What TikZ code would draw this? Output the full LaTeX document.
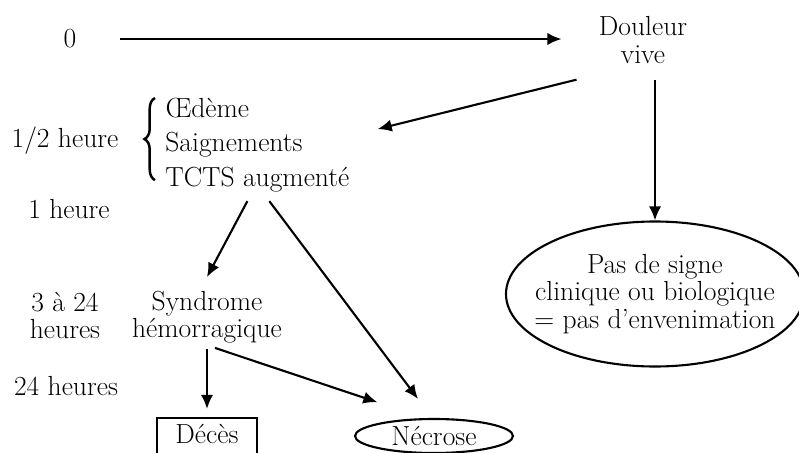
\documentclass[tikz,border=0pt]{standalone}
\usepackage{fontspec}
\usepackage{tikz}
\usetikzlibrary{shapes.geometric, arrows.meta, decorations.pathreplacing, calc}
\tikzstyle{fleche}=[line width=1.2pt, -{Latex[length=8pt,width=7pt]}]
\tikzset{
  etiquette/.style={
    inner sep=0pt,
    anchor=base},
  bloc/.style={
    inner sep=0pt,
    align=center},
  bulle/.style={
    ellipse,
    draw,
    line width=1.2pt,
    inner sep=0pt},
  cadre/.style={
    rectangle,
    draw,
    line width=1.2pt,
    minimum width=2cm,
    inner xsep=0pt,
    inner ysep=0.14cm,
    text height=0.36cm,
    text depth=0.5cm}
}

\begin{document}
\begin{tikzpicture}[font=\fontsize{15.7}{15.5}\selectfont]
  \useasboundingbox (0,0) rectangle (15.98,-9.06);

  % Time scale
  \node (t0) [inner sep=0pt] at (1.4,-0.78) {0};
  \node (tdemi) [etiquette] at (1.3,-2.94) {1/2 heure};
  \node (tun) [etiquette] at (1.38,-4.36) {1 heure};
  \node (ttrois) [bloc] at (1.3,-6.31) {3 à 24\\heures};
  \node (tvingt) [etiquette] at (1.32,-7.9) {24 heures};

  % Signs
  \node (douleur) [bloc] at (12.86,-0.8) {Douleur\\vive};
  \node (signes) [inner sep=0pt, align=left, anchor=north west] at (3.3,-1.96) {Œdème\\[4pt]Saignements\\[4pt]TCTS augmenté};
  \draw[line width=1.4pt, decorate, decoration={brace, amplitude=6pt}] ([xshift=-0.2cm, yshift=0.24cm]signes.south west) -- ([xshift=-0.2cm]signes.north west);
  \node (syndrome) [bloc] at (4.14,-6.35) {Syndrome\\hémorragique};

  % Outcomes
  \node (pas) [bulle, minimum width=5.96cm, minimum height=2.9cm] at (13.1,-5.88) {};
  \node (pastexte) [bloc] at (pas.center) {Pas de signe\\clinique ou biologique\\= pas d'envenimation};
  \node (deces) [cadre, anchor=base] at (4.14,-8.86) {Décès};
  \node (necrose) [bulle, minimum width=3.16cm, minimum height=0.68cm] at (8.68,-8.72) {Nécrose};

  % Main timeline
  \draw[fleche, shorten <=0.86cm, shorten >=0.74cm] (t0.east) -- (t0.east -| douleur.west);

  % Arrows
  \draw[fleche] ([xshift=-0.44cm, yshift=-0.32cm]douleur.south west) -- ([xshift=0.56cm, yshift=0.32cm]signes.east);
  \draw[fleche] ($(douleur.south -| pas.north)+(0,-0.32)$) -- (pas.north);
  \draw[fleche] ([xshift=-0.2cm, yshift=-0.18cm]signes.south) -- ([yshift=0.28cm]syndrome.north);
  \draw[fleche] ([xshift=0.24cm, yshift=-0.18cm]signes.south) -- ([xshift=-0.32cm, yshift=0.38cm]necrose.north);
  \draw[fleche, shorten <=0.1cm, shorten >=0.16cm] (syndrome.south) -- (syndrome.south |- deces.north);
  \draw[fleche] ([xshift=0.16cm, yshift=-0.08cm]syndrome.south) -- ([yshift=0.42cm]necrose.north west);
\end{tikzpicture}
\end{document}
